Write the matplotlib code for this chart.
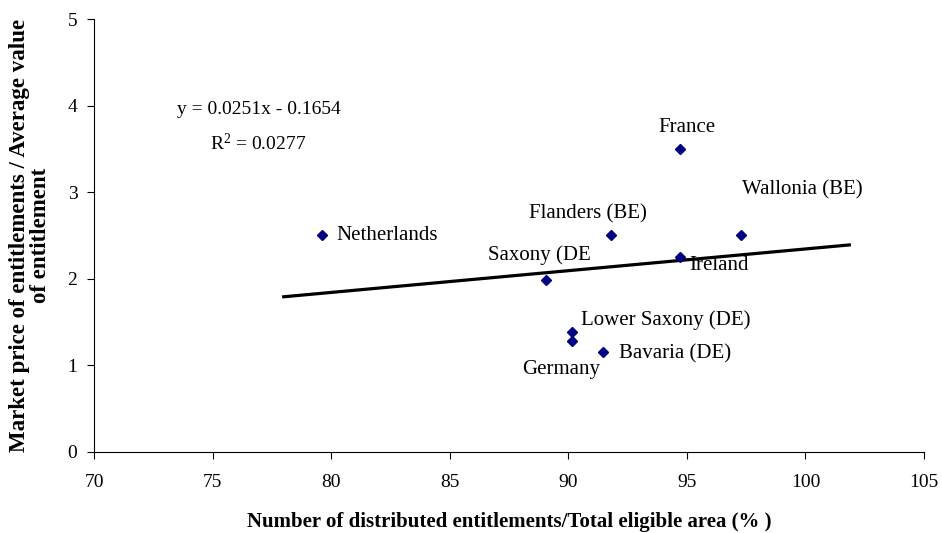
import matplotlib
matplotlib.use("Agg")
import matplotlib.pyplot as plt

# Regions: share of entitlements distributed vs. relative market price
regions = ["Netherlands", "France", "Wallonia (BE)", "Flanders (BE)", "Saxony (DE",
           "Ireland", "Lower Saxony (DE)", "Germany", "Bavaria (DE)"]
distributed_pct = [79.6, 94.7, 97.3, 91.8, 89.05, 94.7, 90.15, 90.15, 91.45]
price_ratio = [2.50, 3.50, 2.50, 2.50, 1.99, 2.25, 1.38, 1.28, 1.15]

# Label placement (pixel offsets from each marker, alignment)
label_offsets = [(15, 0, "left"), (7, 21, "center"), (1, 46, "left"),
                 (-23, 22, "center"), (-6, 25, "center"), (10, -8, "left"),
                 (9, 12, "left"), (-11, -28, "center"), (16, -1, "left")]

# Linear trend line
slope, intercept, r_squared = 0.0251, -0.1654, 0.0277
trend_x = [78.0, 101.85]

xticks = [70, 75, 80, 85, 90, 95, 100, 105]
yticks = [0, 1, 2, 3, 4, 5]

plt.rcParams["font.family"] = ["Liberation Serif", "DejaVu Serif"]
plt.rcParams["mathtext.fontset"] = "custom"
plt.rcParams["mathtext.rm"] = "Liberation Serif"
plt.rcParams["mathtext.it"] = "Liberation Serif:italic"
plt.rcParams["mathtext.bf"] = "Liberation Serif:bold"

fig = plt.figure(figsize=(9.42, 5.33), dpi=100)
ax = fig.add_axes([94 / 942, 1 - 452 / 533, (924 - 94) / 942, (452 - 19) / 533])

ax.plot(distributed_pct, price_ratio, linestyle="none", marker="D",
        markersize=5, color="#000080", zorder=3)

trend_y = [slope * x + intercept for x in trend_x]
ax.plot(trend_x, trend_y, color="black", linewidth=2.3, zorder=2)

for name, x, y, (dx, dy, ha) in zip(regions, distributed_pct, price_ratio, label_offsets):
    ax.annotate(name, (x, y), xytext=(dx, dy), textcoords="offset pixels",
                ha=ha, va="center", fontsize=15, color="black")

fig.text(259 / 942, 1 - 110 / 533, f"y = {slope:.4f}x - {abs(intercept):.4f}",
         ha="center", va="center", fontsize=14)
fig.text(258 / 942, 1 - 143 / 533, r"R$^\mathregular{2}$" + f" = {r_squared:.4f}",
         ha="center", va="center", fontsize=14)

ax.set_xlim(70, 105)
ax.set_ylim(0, 5)
ax.set_xticks(xticks)
ax.set_yticks(yticks)
ax.tick_params(axis="both", direction="out", length=5, width=0.8,
               labelsize=14, color="black")
ax.tick_params(axis="x", pad=11)
ax.tick_params(axis="y", pad=7)

for side in ("top", "right"):
    ax.spines[side].set_visible(False)
for side in ("left", "bottom"):
    ax.spines[side].set_linewidth(0.8)

ax.set_xlabel("Number of distributed entitlements/Total eligible area (% )",
              fontsize=15, fontweight="bold", labelpad=15)
ax.set_ylabel("Market price of entitlements / Average value\nof entitlement",
              fontsize=16.5, fontweight="bold", labelpad=12, linespacing=1.0)

fig.savefig("out.png", dpi=100)
